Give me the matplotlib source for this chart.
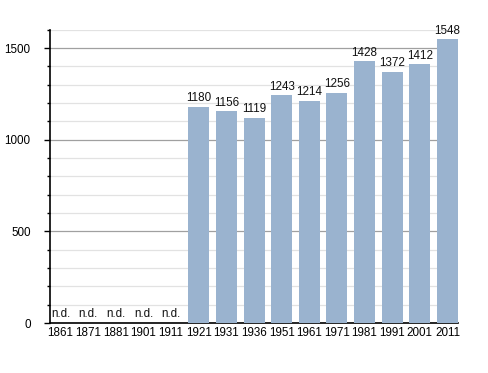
import matplotlib
matplotlib.use("Agg")
import matplotlib.pyplot as plt
from matplotlib.ticker import MultipleLocator

plt.rcParams["font.family"] = ["Liberation Sans", "DejaVu Sans"]

years = ["1861", "1871", "1881", "1901", "1911", "1921", "1931", "1936",
         "1951", "1961", "1971", "1981", "1991", "2001", "2011"]
population = [None, None, None, None, None, 1180, 1156, 1119,
              1243, 1214, 1256, 1428, 1372, 1412, 1548]
missing_label = "n.d."

fig = plt.figure(figsize=(4.88, 3.73), dpi=100)
ax = fig.add_axes([0.1025, 0.134, 0.836, 0.786])

x = list(range(len(years)))
vals = [v if v is not None else 0 for v in population]
bars = ax.bar(x, vals, width=0.76, color="#9ab3cf", zorder=3)

fs = 8.4
for xi, v in zip(x, population):
    if v is None:
        ax.text(xi, 18, missing_label, ha="center", va="bottom", fontsize=fs, color="#111111", zorder=4)
    else:
        ax.text(xi, v + 14, str(v), ha="center", va="bottom", fontsize=fs, color="#111111", zorder=4)

ax.set_xlim(-0.38, 14.38)
ax.set_ylim(0, 1600)
ax.set_xticks(x)
ax.set_xticklabels(years, fontsize=fs)
ax.yaxis.set_major_locator(MultipleLocator(500))
ax.yaxis.set_minor_locator(MultipleLocator(100))
ax.tick_params(axis="y", labelsize=fs, length=4, width=1, direction="out", pad=10)
ax.tick_params(axis="y", which="minor", length=2.5, width=1)
ax.tick_params(axis="x", length=0, pad=3)

ax.grid(axis="y", which="major", color="#a0a0a0", linewidth=0.9, zorder=0)
ax.grid(axis="y", which="minor", color="#e2e2e2", linewidth=0.9, zorder=0)

for s in ["top", "right"]:
    ax.spines[s].set_visible(False)
ax.spines["left"].set_linewidth(1.2)
ax.spines["bottom"].set_linewidth(1.2)

fig.savefig("out.png", dpi=100)
